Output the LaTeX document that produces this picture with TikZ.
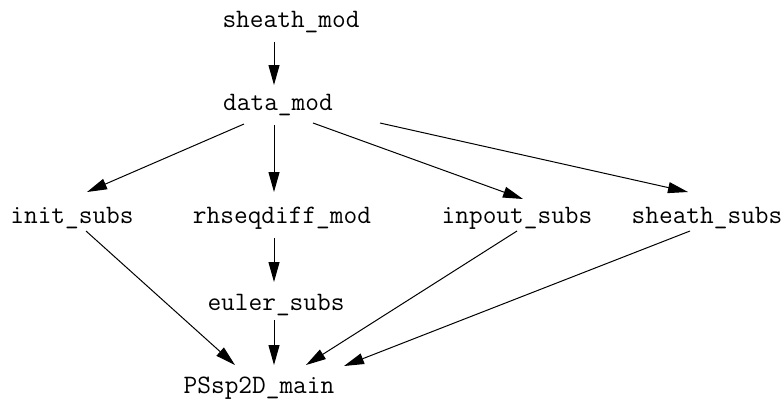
\documentclass[tikz,border=0pt]{standalone}
\usetikzlibrary{arrows.meta}
\begin{document}
\begin{tikzpicture}[x=0.5pt,y=-0.5pt,
  mod/.style={anchor=base,inner sep=0pt,font=\fontsize{13.3}{16}\selectfont\ttfamily},
  dep/.style={-{Triangle[length=10pt,width=5.5pt]},line width=0.5pt}]
\useasboundingbox (0,0) rectangle (783,403);
% modules and programs
\node[mod] (sm) at (291,27) {sheath\_mod};
\node[mod] (dm) at (278,110) {data\_mod};
\node[mod] (is) at (72,223) {init\_subs};
\node[mod] (rhs) at (282,223) {rhseqdiff\_mod};
\node[mod] (ip) at (517,223) {inpout\_subs};
\node[mod] (ss) at (707,223) {sheath\_subs};
\node[mod] (eu) at (276,310) {euler\_subs};
\node[mod] (main) at (259,393) {PSsp2D\_main};
% use dependencies
\draw[dep] ([shift={(-17,15)}]sm.base) -- ([shift={(-4,-25)}]dm.base);
\draw[dep] ([shift={(-34,14)}]dm.base) -- ([shift={(15,-31)}]is.base);
\draw[dep] ([shift={(-4,15)}]dm.base) -- ([shift={(-8,-31)}]rhs.base);
\draw[dep] ([shift={(35,13)}]dm.base) -- ([shift={(6,-24)}]ip.base);
\draw[dep] ([shift={(102,13)}]dm.base) -- ([shift={(-19,-31)}]ss.base);
\draw[dep] ([shift={(-8,15)}]rhs.base) -- ([shift={(-2,-28)}]eu.base);
\draw[dep] ([shift={(14,8)}]is.base) -- ([shift={(-24,-28)}]main.base);
\draw[dep] ([shift={(-2,10)}]eu.base) -- ([shift={(15,-28)}]main.base);
\draw[dep] ([shift={(0,8)}]ip.base) -- ([shift={(47,-28)}]main.base);
\draw[dep] ([shift={(-17,8)}]ss.base) -- ([shift={(85,-27)}]main.base);
\end{tikzpicture}
\end{document}
